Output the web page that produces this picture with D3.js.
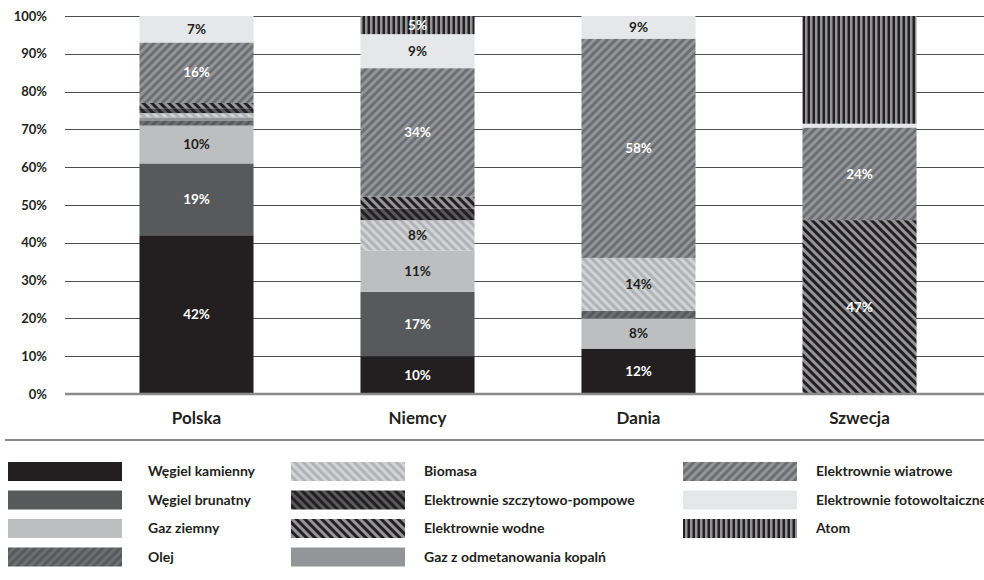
<!DOCTYPE html>
<html><head><meta charset="utf-8">
<script src="https://cdn.jsdelivr.net/npm/d3@7"></script>
<style>html,body{margin:0;padding:0;background:#fff;overflow:hidden}svg{display:block;font-family:Lato,"Open Sans",sans-serif}</style>
</head><body><svg id="c" width="984" height="580"></svg>
<script>
const categories = ["Polska", "Niemcy", "Dania", "Szwecja"];
const sourceNames = ["Węgiel kamienny","Węgiel brunatny","Gaz ziemny","Olej","Gaz z odmetanowania kopalń","Biomasa","Elektrownie szczytowo-pompowe","Elektrownie wodne","Elektrownie wiatrowe","Elektrownie fotowoltaiczne","Atom"];
const wegielKamienny = [42, 10, 12, 0];
const wegielBrunatny = [19, 17, 0, 0];
const gazZiemny = [10, 11, 8, 0];
const olej = [1.4, 0, 2, 0];
const gazOdmetanowania = [0.8, 0, 0, 0];
const biomasa = [1.1, 8, 14, 0];
const szczytowoPompowe = [1.3, 3, 0, 0];
const wodne = [1.4, 3.2, 0, 46];
const wiatrowe = [16, 34, 58, 24.5];
const fotowoltaiczne = [7, 9, 6, 1];
const atom = [0, 4.8, 0, 28.5];
// printed labels
const lblKamienny = ["42%","10%","12%",""];
const lblBrunatny = ["19%","17%","",""];
const lblGaz = ["10%","11%","8%",""];
const lblBiomasa = ["","8%","14%",""];
const lblWodne = ["","","","47%"];
const lblWiatrowe = ["16%","34%","58%","24%"];
const lblFoto = ["7%","9%","9%",""];
const lblAtom = ["","5%","",""];
const yTicks = [0,10,20,30,40,50,60,70,80,90,100];
const yTickLabels = ["0%","10%","20%","30%","40%","50%","60%","70%","80%","90%","100%"];

const series = [
  {name: sourceNames[0], values: wegielKamienny, labels: lblKamienny, fill: "#231f20", lc: "#fff"},
  {name: sourceNames[1], values: wegielBrunatny, labels: lblBrunatny, fill: "#58595b", lc: "#fff"},
  {name: sourceNames[2], values: gazZiemny, labels: lblGaz, fill: "#bcbec0", lc: "#231f20"},
  {name: sourceNames[3], values: olej, labels: null, fill: "url(#pOlej)"},
  {name: sourceNames[4], values: gazOdmetanowania, labels: null, fill: "#939598"},
  {name: sourceNames[5], values: biomasa, labels: lblBiomasa, fill: "url(#pBio)", lc: "#231f20"},
  {name: sourceNames[6], values: szczytowoPompowe, labels: null, fill: "url(#pPomp)"},
  {name: sourceNames[7], values: wodne, labels: lblWodne, fill: "url(#pWod)", lc: "#fff"},
  {name: sourceNames[8], values: wiatrowe, labels: lblWiatrowe, fill: "url(#pWiatr)", lc: "#fff"},
  {name: sourceNames[9], values: fotowoltaiczne, labels: lblFoto, fill: "#e6e7e8", lc: "#231f20"},
  {name: sourceNames[10], values: atom, labels: lblAtom, fill: "url(#pAtom)", lc: "#fff"}
];

const svg = d3.select("#c");
const defs = svg.append("defs");
function stripe(id, bg, fg, size, w, angle){
  const p = defs.append("pattern").attr("id", id).attr("patternUnits","userSpaceOnUse")
    .attr("width", size).attr("height", size).attr("patternTransform", `rotate(${angle})`);
  p.append("rect").attr("width", size).attr("height", size).attr("fill", bg);
  p.append("rect").attr("width", w).attr("height", size).attr("fill", fg);
}
stripe("pOlej", "#58595b", "#6d6e71", 6, 3, 45);
stripe("pBio", "#d1d3d4", "#b1b3b6", 6, 3, -45);
stripe("pPomp", "#231f20", "#58595b", 6, 3, -45);
stripe("pWod", "#231f20", "#939598", 6, 3, -45);
stripe("pWiatr", "#939598", "#6d6e71", 6, 3, 45);
stripe("pAtom", "#231f20", "#939598", 5, 2.5, 0);

const x = d3.scaleBand().domain(categories).range([86, 970]).paddingInner(0.484).paddingOuter(0.242);
const y = d3.scaleLinear().domain([0, 100]).range([394, 16]);

// gridlines
svg.append("g").selectAll("line").data(yTicks.filter(d => d > 0)).join("line")
  .attr("x1", 65).attr("x2", 984)
  .attr("y1", d => Math.round(y(d)) + 0.5).attr("y2", d => Math.round(y(d)) + 0.5)
  .attr("stroke", "#4d4d4f").attr("stroke-width", 1);

// y tick labels
svg.append("g").selectAll("text").data(yTicks).join("text")
  .attr("x", 47).attr("y", d => y(d)).attr("dy", "0.35em").attr("text-anchor", "end")
  .attr("font-size", 13).attr("font-weight", 700).attr("fill", "#231f20")
  .text((d, i) => yTickLabels[i]);

// stacks
const table = categories.map((c, i) => {
  const o = {cat: c};
  series.forEach(s => o[s.name] = s.values[i]);
  return o;
});
const stack = d3.stack().keys(sourceNames)(table);
const gBars = svg.append("g");
stack.forEach((layer, k) => {
  const s = series[k];
  gBars.append("g").selectAll("rect").data(layer).join("rect")
    .attr("x", d => x(d.data.cat)).attr("width", x.bandwidth())
    .attr("y", d => y(d[1])).attr("height", d => y(d[0]) - y(d[1]))
    .attr("fill", s.fill);
});
stack.forEach((layer, k) => {
  const s = series[k];
  if (!s.labels) return;
  gBars.append("g").selectAll("text").data(layer).join("text")
    .attr("x", d => x(d.data.cat) + x.bandwidth() / 2)
    .attr("y", d => (y(d[0]) + y(d[1])) / 2).attr("dy", "0.35em")
    .attr("text-anchor", "middle").attr("font-size", 13.5).attr("font-weight", 700)
    .attr("fill", s.lc)
    .text((d, i) => s.labels[i]);
});

// baseline
svg.append("line").attr("x1", 65).attr("x2", 984).attr("y1", y(0)).attr("y2", y(0))
  .attr("stroke", "#8a8b8d").attr("stroke-width", 2.5);

// category labels
svg.append("g").selectAll("text").data(categories).join("text")
  .attr("x", d => x(d) + x.bandwidth() / 2).attr("y", 418).attr("dy", "0.35em")
  .attr("text-anchor", "middle").attr("font-size", 17).attr("font-weight", 700).attr("fill", "#231f20")
  .text(d => d);

// separator
svg.append("line").attr("x1", 5).attr("x2", 984).attr("y1", 440).attr("y2", 440)
  .attr("stroke", "#8a8b8d").attr("stroke-width", 2);

// legend
const legendCols = [
  {sx: 8, tx: 148, items: [0, 1, 2, 3]},
  {sx: 291, tx: 424, items: [5, 6, 7, 4]},
  {sx: 683, tx: 816, items: [8, 9, 10]}
];
const lg = svg.append("g");
legendCols.forEach(col => {
  col.items.forEach((idx, r) => {
    const cy = 471.5 + r * 28.5;
    lg.append("rect").attr("x", col.sx).attr("y", cy - 9.5).attr("width", 114).attr("height", 19)
      .attr("fill", series[idx].fill);
    lg.append("text").attr("x", col.tx).attr("y", cy).attr("dy", "0.35em")
      .attr("font-size", 14).attr("font-weight", 700).attr("fill", "#231f20")
      .text(series[idx].name);
  });
});
</script></body></html>
